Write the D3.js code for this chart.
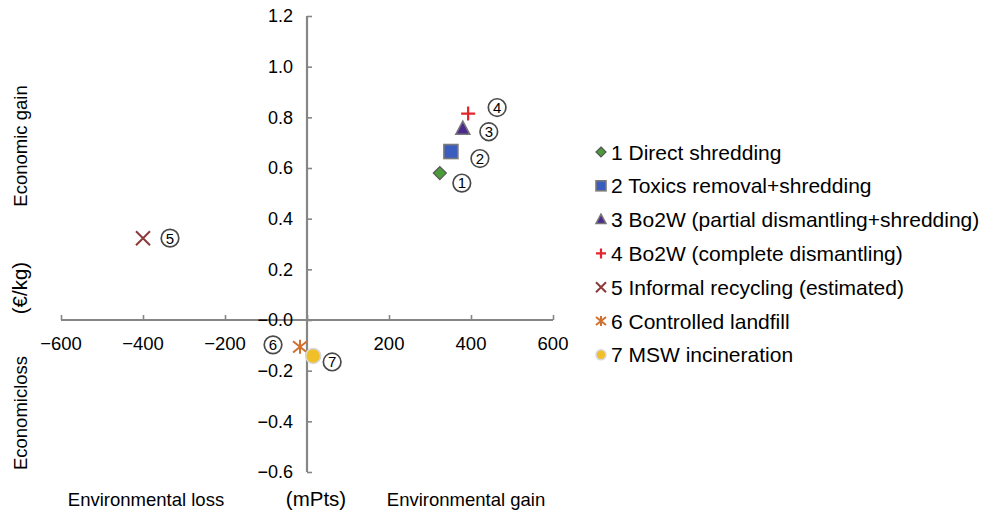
<!DOCTYPE html>
<html>
<head>
<meta charset="utf-8">
<script src="https://cdn.jsdelivr.net/npm/d3@7"></script>
<style>
  body { margin: 0; background: #fff; }
  svg { display: block; font-family: "Liberation Sans", Arial, sans-serif; }
</style>
</head>
<body>
<svg id="chart" width="989" height="510"></svg>
<script>
const ids = [1, 2, 3, 4, 5, 6, 7];
const names = ["1 Direct shredding", "2 Toxics removal+shredding", "3 Bo2W (partial dismantling+shredding)",
  "4 Bo2W (complete dismantling)", "5 Informal recycling (estimated)", "6 Controlled landfill", "7 MSW incineration"];
const envValues = [324, 351, 380, 393, -400, -17, 15];
const ecoValues = [0.58, 0.665, 0.755, 0.815, 0.323, -0.106, -0.142];
const xTicks = [-600, -400, -200, 0, 200, 400, 600];
const yTicks = [-0.6, -0.4, -0.2, 0.0, 0.2, 0.4, 0.6, 0.8, 1.0, 1.2];
// label offsets (relative to marker), in px
const labelDx = [22, 29, 26, 29, 27, -27, 19];
const labelDy = [10, 7, 3, -6, 0, -2, 6];

const svg = d3.select("#chart");
const x = d3.scaleLinear().domain([-600, 600]).range([61, 553]);
const y = d3.scaleLinear().domain([-0.6, 1.2]).range([472, 16]);
const axisColor = "#868686";

// X axis at y=0
const xAxis = svg.append("g").attr("transform", `translate(0,${y(0)})`)
  .call(d3.axisTop(x).tickValues(xTicks).tickSize(5).tickFormat(""));
xAxis.select(".domain").attr("stroke", axisColor).attr("stroke-width", 2.2).attr("d", `M${x(-600)},0H${x(600)}`);
xAxis.selectAll(".tick line").attr("stroke", axisColor).attr("stroke-width", 1.6);
svg.append("g").selectAll("text").data(xTicks.filter(d => d !== 0)).join("text")
  .attr("x", d => x(d)).attr("y", y(0) + 30)
  .attr("text-anchor", "middle").attr("font-size", 18.5).attr("fill", "#000")
  .text(d => d3.format("d")(d));

// Y axis at x=0
const yAxis = svg.append("g").attr("transform", `translate(${x(0)},0)`)
  .call(d3.axisRight(y).tickValues(yTicks).tickSize(5).tickFormat(""));
yAxis.select(".domain").attr("stroke", axisColor).attr("stroke-width", 2.2).attr("d", `M0,${y(1.2)}V${y(-0.6)}`);
yAxis.selectAll(".tick line").attr("stroke", axisColor).attr("stroke-width", 1.6);
svg.append("g").selectAll("text").data(yTicks).join("text")
  .attr("x", x(0) - 14).attr("y", d => y(d)).attr("dy", "0.36em")
  .attr("text-anchor", "end").attr("font-size", 18).attr("fill", "#000")
  .text(d => d === 0 ? "\u22120.0" : d3.format(".1f")(d));

// axis titles
const titleSize = 18.5;
function vText(t, cy, fs) {
  svg.append("text").attr("transform", `translate(27,${cy}) rotate(-90)`)
    .attr("text-anchor", "middle").attr("font-size", fs).text(t);
}
vText("Economic gain", 146, titleSize);
vText("(€/kg)", 288, 20.5);
vText("Economicloss", 413, titleSize);
svg.append("text").attr("x", 146).attr("y", 506).attr("text-anchor", "middle").attr("font-size", titleSize).text("Environmental loss");
svg.append("text").attr("x", 316).attr("y", 506).attr("text-anchor", "middle").attr("font-size", 20.5).text("(mPts)");
svg.append("text").attr("x", 466).attr("y", 506).attr("text-anchor", "middle").attr("font-size", titleSize).text("Environmental gain");

// marker drawing
const styles = [
  { type: "diamond", fill: "#4c9a3c", stroke: "#555" },
  { type: "square", fill: "#3a5cbf", stroke: "#7a7a7a" },
  { type: "triangle", fill: "#4a2a8c", stroke: "#777" },
  { type: "plus", stroke: "#e3242b" },
  { type: "cross", stroke: "#8c3a3a" },
  { type: "star", stroke: "#d0702c" },
  { type: "circle", fill: "#f0bf2a", stroke: "#d8d8d8" }
];
function drawMarker(g, st, s) {
  const h = s / 2;
  if (st.type === "diamond") {
    g.append("path").attr("d", `M0,${-h}L${h},0L0,${h}L${-h},0Z`).attr("fill", st.fill).attr("stroke", st.stroke).attr("stroke-width", 1.2);
  } else if (st.type === "square") {
    g.append("rect").attr("x", -h).attr("y", -h).attr("width", s).attr("height", s).attr("fill", st.fill).attr("stroke", st.stroke).attr("stroke-width", 1.6);
  } else if (st.type === "triangle") {
    g.append("path").attr("d", `M0,${-h * 1.1}L${h},${h * 0.8}L${-h},${h * 0.8}Z`).attr("fill", st.fill).attr("stroke", st.stroke).attr("stroke-width", 1.5);
  } else if (st.type === "plus") {
    g.append("path").attr("d", `M${-h},0H${h}M0,${-h}V${h}`).attr("stroke", st.stroke).attr("stroke-width", 2.2).attr("fill", "none");
  } else if (st.type === "cross") {
    g.append("path").attr("d", `M${-h},${-h}L${h},${h}M${h},${-h}L${-h},${h}`).attr("stroke", st.stroke).attr("stroke-width", 2).attr("fill", "none");
  } else if (st.type === "star") {
    g.append("path").attr("d", `M${-h},${-h * 0.8}L${h},${h * 0.8}M${h},${-h * 0.8}L${-h},${h * 0.8}M0,${-h}V${h}`).attr("stroke", st.stroke).attr("stroke-width", 2).attr("fill", "none");
  } else if (st.type === "circle") {
    g.append("circle").attr("r", h).attr("fill", st.fill).attr("stroke", st.stroke).attr("stroke-width", 1.6);
  }
}
const markerSize = [13, 14, 14, 14, 14, 14, 15];

const pts = svg.append("g");
ids.forEach((id, i) => {
  const g = pts.append("g").attr("transform", `translate(${x(envValues[i])},${y(ecoValues[i])})`);
  drawMarker(g, styles[i], markerSize[i]);
  const lg = pts.append("g").attr("transform", `translate(${x(envValues[i]) + labelDx[i]},${y(ecoValues[i]) + labelDy[i]})`);
  lg.append("circle").attr("r", 8.8).attr("fill", "#fff").attr("stroke", "#4a4a4a").attr("stroke-width", 1.7);
  lg.append("text").attr("text-anchor", "middle").attr("dy", "0.36em").attr("font-size", 15).text(id);
});

// legend
const legend = svg.append("g").attr("transform", "translate(601,152)");
names.forEach((n, i) => {
  const g = legend.append("g").attr("transform", `translate(0,${i * 33.8})`);
  const mg = g.append("g");
  drawMarker(mg, styles[i], 10);
  g.append("text").attr("x", 10).attr("dy", "0.36em").attr("font-size", 21).text(n);
});
</script>
</body>
</html>
